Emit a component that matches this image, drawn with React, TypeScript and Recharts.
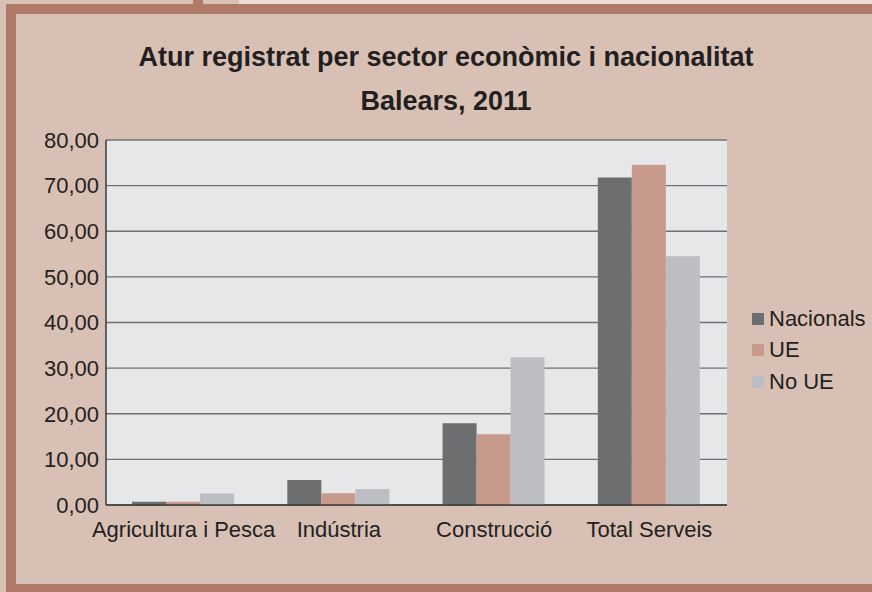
import { Bar, BarChart, CartesianGrid, Legend, XAxis, YAxis } from "recharts";

const categories = ["Agricultura i Pesca", "Indústria", "Construcció", "Total Serveis"];
const nacionals = [0.7, 5.5, 17.9, 71.8];
const ue = [0.7, 2.6, 15.5, 74.6];
const noUe = [2.5, 3.5, 32.4, 54.5];
const yTicks = [0, 10, 20, 30, 40, 50, 60, 70, 80];

const SERIES = [
  { key: "nacionals", name: "Nacionals", color: "#6d6e70" },
  { key: "ue", name: "UE", color: "#c79a8c" },
  { key: "noUe", name: "No UE", color: "#bdbec1" },
];

const data = categories.map((c, i) => ({
  name: c,
  nacionals: nacionals[i],
  ue: ue[i],
  noUe: noUe[i],
}));

const FONT = '"Liberation Sans", Arial, sans-serif';
const TEXT = "#231f20";
const BROWN = "#b07a69";
const BG = "#d9c0b5";

function fmt(v: number) {
  return v.toFixed(2).replace(".", ",");
}

function LegendBox() {
  return (
    <div style={{ fontFamily: FONT, fontSize: 22, color: TEXT }}>
      {SERIES.map((s) => (
        <div key={s.key} style={{ display: "flex", alignItems: "center", height: 31.5 }}>
          <span style={{ width: 12, height: 12, background: s.color, marginRight: 5, display: "inline-block" }} />
          <span style={{ lineHeight: "22px" }}>{s.name}</span>
        </div>
      ))}
    </div>
  );
}

export default function App() {
  return (
    <div
      style={{
        position: "absolute",
        left: 0,
        top: 0,
        width: 872,
        height: 592,
        overflow: "hidden",
        background: BG,
        fontFamily: FONT,
      }}
    >
      {/* top strip */}
      <div style={{ position: "absolute", left: 239, top: 0, width: 633, height: 4, background: "#ecdcd6" }} />
      <div style={{ position: "absolute", left: 193, top: 0, width: 10, height: 4, background: BROWN }} />
      {/* frame */}
      <div
        style={{
          position: "absolute",
          left: 6,
          top: 4,
          width: 880,
          height: 590,
          boxSizing: "border-box",
          border: `10px solid ${BROWN}`,
        }}
      />
      <div
        style={{
          position: "absolute",
          left: 0,
          top: 35,
          width: 892,
          textAlign: "center",
          fontWeight: "bold",
          fontSize: 27,
          color: TEXT,
          lineHeight: "44px",
        }}
      >
        <div>Atur registrat per sector econòmic i nacionalitat</div>
        <div>Balears, 2011</div>
      </div>
      <div style={{ position: "absolute", left: 0, top: 0 }}>
        <BarChart
          width={872}
          height={592}
          data={data}
          margin={{ top: 140, right: 145, bottom: 57, left: 0 }}
          barCategoryGap="16.8%"
          barGap={0}
        >
          <CartesianGrid vertical={false} stroke="#707070" strokeWidth={1.4} fill="#e6e7e9" fillOpacity={1} />
          <XAxis
            dataKey="name"
            height={30}
            tickLine={false}
            tickSize={8}
            tickMargin={8}
            axisLine={{ stroke: "#3a3a3a", strokeWidth: 1.5 }}
            tick={{ fill: TEXT, fontSize: 22, fontFamily: FONT }}
            interval={0}
          />
          <YAxis
            width={106}
            domain={[0, 80]}
            ticks={yTicks}
            tickFormatter={fmt}
            tickLine={false}
            tickSize={5}
            tickMargin={2}
            axisLine={{ stroke: "#3a3a3a", strokeWidth: 1.5 }}
            tick={{ fill: TEXT, fontSize: 22, fontFamily: FONT }}
          />
          <Legend
            layout="vertical"
            align="center"
            verticalAlign="middle"
            wrapperStyle={{ left: 752, top: 303, width: 120 }}
            content={() => <LegendBox />}
          />
          {SERIES.map((s) => (
            <Bar key={s.key} dataKey={s.key} name={s.name} fill={s.color} isAnimationActive={false} />
          ))}
        </BarChart>
      </div>
    </div>
  );
}
